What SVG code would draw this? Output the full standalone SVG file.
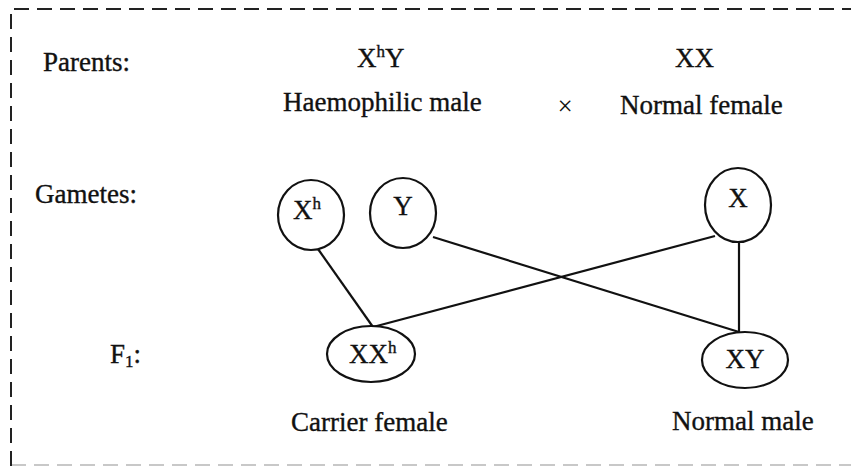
<svg xmlns="http://www.w3.org/2000/svg" width="851" height="467" viewBox="0 0 851 467">
<style>
.t{font-family:"Liberation Serif","Times New Roman",serif;font-size:27px;fill:#111;stroke:#111;stroke-width:0.35}
.s{font-size:17px}
.n{fill:#fff;stroke:#111;stroke-width:2.2}
.c{stroke:#111;stroke-width:2.2;fill:none}
.b{stroke:#222;stroke-width:2;fill:none;stroke-dasharray:15 8}
</style>
<rect width="851" height="467" fill="#fff"/>
<g id="border">
<path class="b" d="M11 466 V9 H851"/>
<path class="b" d="M11 465 H851" stroke-opacity="0.25"/>
</g>
<g id="labels">
<text class="t" x="43" y="71">Parents:</text>
<text class="t" x="35" y="203">Gametes:</text>
<text class="t" x="110" y="363">F<tspan class="s" dy="4">1</tspan><tspan dy="-4">:</tspan></text>
</g>
<g id="parents">
<text class="t" x="357" y="67">X<tspan class="s" dy="-10">h</tspan><tspan dy="10">Y</tspan></text>
<text class="t" x="283" y="111">Haemophilic male</text>
<text class="t" x="565" y="115" font-size="18px" text-anchor="middle" style="stroke-width:0">×</text>
<text class="t" x="675" y="67">XX</text>
<text class="t" x="620" y="114">Normal female</text>
</g>
<g id="connectors">
<line class="c" x1="318" y1="249" x2="373" y2="327"/>
<line class="c" x1="373" y1="327" x2="715" y2="236"/>
<line class="c" x1="433" y1="237" x2="739" y2="332"/>
<line class="c" x1="739" y1="242" x2="739" y2="332"/>
</g>
<g id="gamete-xh">
<ellipse class="n" cx="311" cy="215" rx="33" ry="35"/>
<text class="t" x="293" y="219">X<tspan class="s" dy="-10">h</tspan></text>
</g>
<g id="gamete-y">
<ellipse class="n" cx="403" cy="213" rx="33" ry="35"/>
<text class="t" x="403" y="215" text-anchor="middle">Y</text>
</g>
<g id="gamete-x">
<ellipse class="n" cx="738" cy="205" rx="33" ry="37"/>
<text class="t" x="738" y="207" text-anchor="middle">X</text>
</g>
<g id="f1-xxh">
<ellipse class="n" cx="371" cy="354" rx="44" ry="28"/>
<text class="t" x="349" y="363">XX<tspan class="s" dy="-10">h</tspan></text>
</g>
<g id="f1-xy">
<ellipse class="n" cx="745" cy="360" rx="43" ry="28"/>
<text class="t" x="745" y="368" text-anchor="middle">XY</text>
</g>
<g id="f1-labels">
<text class="t" x="291" y="431">Carrier female</text>
<text class="t" x="672" y="430">Normal male</text>
</g>
</svg>
